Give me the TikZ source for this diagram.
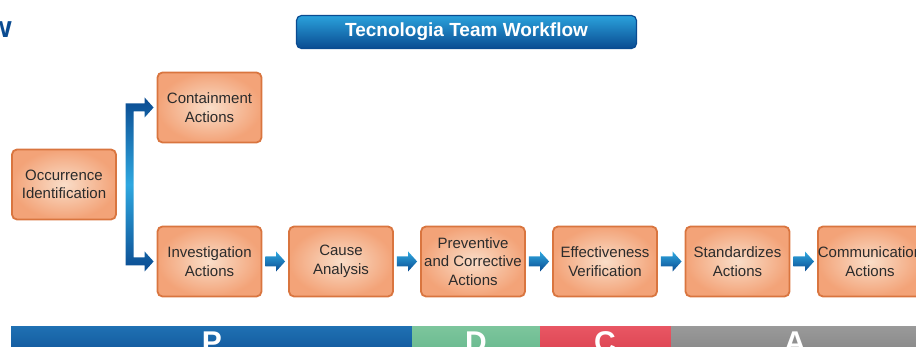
\documentclass[tikz,border=0pt]{standalone}
\usepackage{fontspec}
\setmainfont{Liberation Sans}
\usetikzlibrary{calc}
\definecolor{boxedge}{HTML}{D9753F}
\definecolor{boxin}{HTML}{F9DDC8}
\definecolor{boxout}{HTML}{F3A378}
\definecolor{dkblue}{HTML}{0A4B91}
\definecolor{ltblue}{HTML}{2AA2DC}
\definecolor{brblue}{HTML}{2FA8E0}
\definecolor{txt}{HTML}{2B2B2B}
\definecolor{pblue}{HTML}{1F70B2}
\definecolor{dgreenA}{HTML}{7CC59C}
\definecolor{dgreenB}{HTML}{5EB387}
\definecolor{credA}{HTML}{E85663}
\definecolor{credB}{HTML}{D63A48}
\definecolor{agrayA}{HTML}{999999}
\definecolor{agrayB}{HTML}{7E7E7E}
\tikzset{
  stepbox/.style={rounded corners=5pt, draw=boxedge, line width=1.8pt, inner color=boxin, outer color=boxout,
    minimum width=104pt, minimum height=70pt, align=center, text=txt, font=\fontsize{15}{18.5}\selectfont, inner sep=0pt},
  titlebox/.style={rounded corners=5pt, draw=dkblue, line width=1.2pt, top color=ltblue, bottom color=dkblue,
    minimum width=340pt, minimum height=33pt, text=white, font=\bfseries\fontsize{19}{21}\selectfont},
  arrowshade/.style={top color=brblue, bottom color=dkblue},
  bracketshade/.style={top color=dkblue, bottom color=dkblue, middle color=brblue},
  phase/.style={text=white, font=\bfseries\fontsize{30}{30}\selectfont, anchor=base}
}
\newcommand\blkarrow[2]{%
  \shade[arrowshade] ($(#1.east)+(3pt,-5pt)$) -- ($(#2.west)+(-12pt,-5pt)$) -- ($(#2.west)+(-12pt,-10pt)$)
   -- ($(#2.west)+(-3pt,0pt)$) -- ($(#2.west)+(-12pt,10pt)$) -- ($(#2.west)+(-12pt,5pt)$)
   -- ($(#1.east)+(3pt,5pt)$) -- cycle;}
\begin{document}
\begin{tikzpicture}[x=1pt,y=1pt]
\useasboundingbox (0,0) rectangle (916,347);
\clip (0,0) rectangle (916,347);
% phase bars
\shade[top color=pblue, bottom color=dkblue] (11,-20) rectangle (412,20);
\shade[top color=dgreenA, bottom color=dgreenB] (412,-20) rectangle (540,20);
\shade[top color=credA, bottom color=credB] (540,-20) rectangle (671,20);
\shade[top color=agrayA, bottom color=agrayB] (671,-20) rectangle (920,20);
\node[phase] (pP) at (212,-6) {P};
\node[phase] (pD) at (476,-6) {D};
\node[phase] (pC) at (605,-6) {C};
\node[phase] (pA) at (795,-6) {A};
% header
\node[text=dkblue, font=\bfseries\fontsize{30}{30}\selectfont, anchor=base east, inner sep=0pt] (hw) at (12,309) {w};
\node[titlebox] (title) at (466.5,315) {Tecnologia Team Workflow};
% boxes
\node[stepbox] (cont) at (209.5,239.5) {Containment\\Actions};
\node[stepbox] (occ) at (64,162.5) {Occurrence\\Identification};
\node[stepbox] (inv) at (209.5,85.5) {Investigation\\Actions};
\node[stepbox] (cau) at (341,85.5) {Cause\\Analysis};
\node[stepbox] (prev) at (473,85.5) {Preventive\\and Corrective\\Actions};
\node[stepbox] (eff) at (605,85.5) {Effectiveness\\Verification};
\node[stepbox] (std) at (737.5,85.5) {Standardizes\\Actions};
\node[stepbox] (com) at (870,85.5) {Communication\\Actions};
% bracket
\shade[bracketshade]
  ($(cont.west)+(-31pt,4pt)$) -- ($(cont.west)+(-12pt,4pt)$) -- ($(cont.west)+(-12pt,10pt)$)
  -- ($(cont.west)+(-3pt,0pt)$) -- ($(cont.west)+(-12pt,-10pt)$) -- ($(cont.west)+(-12pt,-4pt)$)
  -- ($(cont.west)+(-23pt,-4pt)$) -- ($(inv.west)+(-23pt,4pt)$)
  -- ($(inv.west)+(-12pt,4pt)$) -- ($(inv.west)+(-12pt,10pt)$) -- ($(inv.west)+(-3pt,0pt)$)
  -- ($(inv.west)+(-12pt,-10pt)$) -- ($(inv.west)+(-12pt,-4pt)$) -- ($(inv.west)+(-31pt,-4pt)$) -- cycle;
% arrows
\blkarrow{inv}{cau}
\blkarrow{cau}{prev}
\blkarrow{prev}{eff}
\blkarrow{eff}{std}
\blkarrow{std}{com}
\end{tikzpicture}
\end{document}
